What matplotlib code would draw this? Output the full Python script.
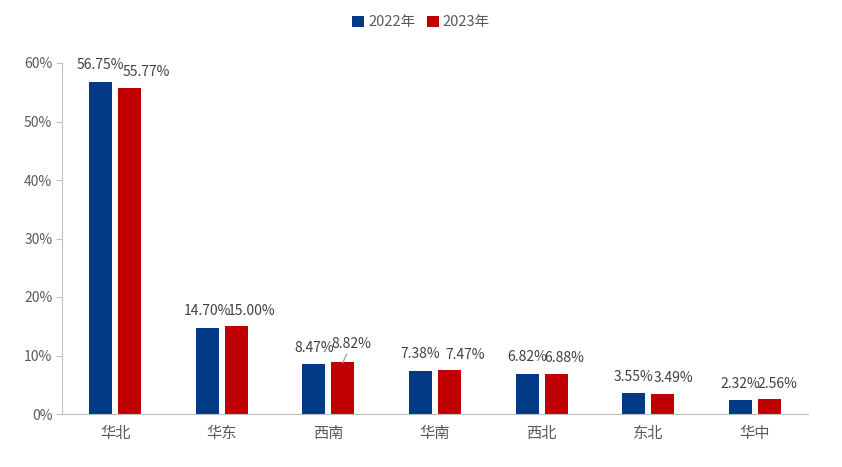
import matplotlib
matplotlib.use("Agg")
import matplotlib.pyplot as plt
import numpy as np
from matplotlib.ticker import FuncFormatter

plt.rcParams['font.family'] = ['Noto Sans CJK SC', 'DejaVu Sans']

regions = ["华北", "华东", "西南", "华南", "西北", "东北", "华中"]
share_2022 = [56.75, 14.70, 8.47, 7.38, 6.82, 3.55, 2.32]
share_2023 = [55.77, 15.00, 8.82, 7.47, 6.88, 3.49, 2.56]
series_names = ["2022年", "2023年"]

C22 = "#003A84"
C23 = "#C00000"
TXT = "#404040"
AX_C = "#BFBFBF"

# horizontal nudge (points) for the 2023 labels, as placed in the original
red_dx = [12, 11, 6, 11, 6, 8, 6]

fig = plt.figure(figsize=(8.42, 4.67), dpi=100)
ax = fig.add_axes([62 / 842, 53 / 467, 746 / 842, 351 / 467])

x = np.arange(len(regions))
w = 0.215
off = 0.136
b1 = ax.bar(x - off, share_2022, w, color=C22, label=series_names[0])
b2 = ax.bar(x + off, share_2023, w, color=C23, label=series_names[1])

for r, v in zip(b1, share_2022):
    ax.annotate(f"{v:.2f}%", (r.get_x() + r.get_width() / 2, v), xytext=(0, 7),
                textcoords="offset points", ha="center", va="bottom",
                fontsize=10, color=TXT)
for i, (r, v) in enumerate(zip(b2, share_2023)):
    xc = r.get_x() + r.get_width() / 2
    if regions[i] == "西南":
        ax.annotate(f"{v:.2f}%", (xc, v), xytext=(red_dx[i], 8),
                    textcoords="offset points", ha="center", va="bottom",
                    fontsize=10, color=TXT,
                    arrowprops=dict(arrowstyle="-", color="#A6A6A6", lw=1,
                                    shrinkA=0, shrinkB=0))
    else:
        ax.annotate(f"{v:.2f}%", (xc, v), xytext=(red_dx[i], 6),
                    textcoords="offset points", ha="center", va="bottom",
                    fontsize=10, color=TXT)

ax.set_xlim(-0.5, len(regions) - 0.5)
ax.set_ylim(0, 60)
ax.set_yticks(np.arange(0, 61, 10))
ax.yaxis.set_major_formatter(FuncFormatter(lambda v, p: f"{v:.0f}%"))
ax.set_xticks(x)
ax.set_xticklabels(regions, fontsize=11, color="#595959")
ax.tick_params(axis="x", length=0, pad=8)
ax.tick_params(axis="y", length=4, color=AX_C, labelsize=10, labelcolor="#595959", pad=3)
for s in ["top", "right"]:
    ax.spines[s].set_visible(False)
ax.spines["left"].set_color(AX_C)
ax.spines["bottom"].set_color(AX_C)

fig.legend(handles=[b1, b2], loc="upper center", bbox_to_anchor=(0.5, 0.995), ncol=2,
           frameon=False, fontsize=10.5, handlelength=0.8, handleheight=0.8,
           handletextpad=0.3, columnspacing=0.8, labelcolor="#595959")

fig.savefig("out.png", dpi=100)
